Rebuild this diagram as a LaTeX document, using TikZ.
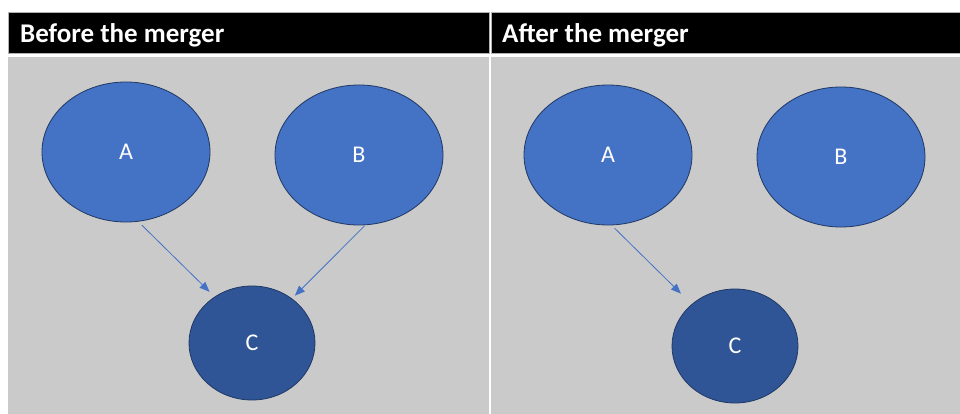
\documentclass[tikz,border=0pt]{standalone}
\usepackage{fontspec}
\setmainfont{Carlito}
\usepackage{tikz}
\usetikzlibrary{shapes.geometric,arrows.meta}

\definecolor{panelgray}{HTML}{CACACA}
\definecolor{firmblue}{HTML}{4472C4}
\definecolor{firmdark}{HTML}{2F5597}
\definecolor{firmedge}{HTML}{1F3864}

\begin{document}
\begin{tikzpicture}[x=1pt,y=-1pt,
  header/.style={fill=black,draw=gray!60,line width=0.6pt},
  body/.style={fill=panelgray},
  title/.style={anchor=base west,inner sep=0pt,text=white,font=\fontsize{27}{30}\selectfont\bfseries},
  firm/.style={ellipse,draw=firmedge,line width=0.8pt,fill=firmblue,text=white,
    minimum width=168pt,minimum height=140pt,inner sep=0pt,font=\fontsize{24}{28}\selectfont},
  target/.style={firm,fill=firmdark,minimum width=126pt,minimum height=114pt},
  owns/.style={-{Triangle[length=10pt,width=8pt]},draw=firmblue,line width=0.8pt}
  ]
  \useasboundingbox (0,0) rectangle (960,414);

  % panels
  \fill[header] (8,12) rectangle (489,53);
  \fill[header] (491,12) rectangle (960,53);
  \fill[body] (8,57) rectangle (489,414);
  \fill[body] (491,57) rectangle (960,414);
  \node[title] (t1) at (20,43) {Before the merger};
  \node[title] (t2) at (502,43) {After the merger};

  % before
  \node[firm] (a1) at (126,152) {A};
  \node[firm] (b1) at (359,155) {B};
  \node[target] (c1) at (252,343) {C};
  \draw[owns,shorten <=5pt,shorten >=7pt] (a1.-80) -- (c1.129);
  \draw[owns,shorten <=1pt,shorten >=4pt] (b1.-85) -- (c1.48);

  % after
  \node[firm] (a2) at (608,155) {A};
  \node[firm] (b2) at (841,157) {B};
  \node[target] (c2) at (735,346) {C};
  \draw[owns,shorten <=4pt,shorten >=15pt] (a2.-87) -- (c2.136);
\end{tikzpicture}
\end{document}
